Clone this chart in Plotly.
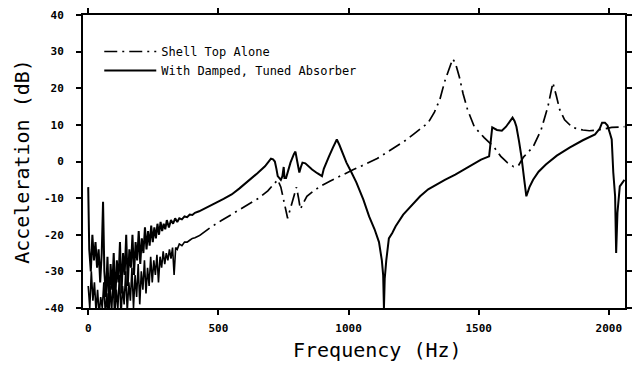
import plotly.graph_objects as go

# ---- Data ----
# "With Damped, Tuned Absorber" (solid)
absorber_freq = [0, 4, 10, 16, 22, 28, 34, 40, 46, 52, 57, 62, 68, 74, 80, 86, 92, 98, 104, 110,
                 116, 122, 128, 134, 140, 146, 152, 158, 164, 170, 176, 182, 188, 194, 200, 206,
                 212, 218, 224, 230, 236, 242, 248, 254, 260, 266, 272, 278, 284, 290, 296, 302,
                 310, 318, 326, 334, 342, 350, 360, 370, 380, 390, 400, 410, 426, 450, 490, 520,
                 551, 580, 615, 650, 679, 692, 702, 710, 717, 723, 728, 740, 746, 751, 754, 760,
                 770, 777, 790, 796, 803, 811, 817, 823, 834, 845, 860, 880, 898, 905, 915, 925,
                 940, 955, 965, 978, 992, 1010, 1030, 1057, 1079, 1100, 1117, 1128, 1133, 1136,
                 1139, 1145, 1155, 1168, 1181, 1210, 1245, 1275, 1306, 1340, 1370, 1410, 1445,
                 1480, 1509, 1540, 1546, 1552, 1570, 1589, 1605, 1623, 1630, 1638, 1645, 1655,
                 1664, 1675, 1683, 1695, 1709, 1730, 1758, 1800, 1849, 1900, 1947, 1965, 1974,
                 1985, 1995, 2005, 2011, 2017, 2024, 2028, 2033, 2042, 2060]
absorber_db = [-7, -24, -30, -20, -27, -22, -29, -24, -33, -25, -11, -30, -37, -26, -40, -28, -35,
               -25, -38, -27, -33, -22, -36, -25, -31, -20, -34, -24, -29, -20, -31, -22, -27, -19,
               -28, -21, -25, -18, -24, -19, -23, -17.5, -22, -18, -21, -17, -20, -16.5, -19, -17,
               -18.5, -16, -18, -16, -17, -15.5, -16.5, -15.5, -15.8, -15, -15.2, -14.5, -14.6,
               -14, -13.6, -12.8, -11.3, -10.2, -9, -7.4, -5.4, -3.2, -1.3, 0, 0.8, 0.6, 0, -2,
               -4, -5, -4, -1.5, -4.5, -4.5, -2, -0.3, 2, 2.7, 0, -3, -1.5, -0.3, -0.5, -1.3,
               -2.2, -3.2, -4, -2, -0.5, 1.4, 3.8, 6, 4.5, 2, -0.3, -2.8, -5.7, -10.4, -15, -18.5,
               -22, -27, -31, -40, -32, -27, -21, -19.5, -17.7, -14.5, -11.7, -9.5, -7.6, -6.2,
               -5, -3.6, -2.2, -0.6, 0.5, 1.4, 5, 9.3, 8.6, 8.4, 9.5, 11.4, 12, 11, 9.5, 5.5,
               1.4, -5, -9.5, -7, -5, -2.8, -0.8, 1.6, 3.8, 5.8, 7.4, 9, 10.6, 10.6, 9.8, 7.5, 6,
               -3, -9.5, -25, -14, -6.8, -5]

# "Shell Top Alone" (dash-dot) - noisy low-frequency part
shell_low_freq = [0, 6, 12, 18, 24, 30, 36, 42, 48, 54, 60, 66, 72, 78, 84, 90, 96, 102, 108, 114,
                  120, 126, 132, 138, 144, 150, 156, 162, 168, 174, 180, 186, 192, 198, 204, 210,
                  216, 222, 228, 234, 240, 246, 252, 258, 264, 270, 276, 282, 288, 294, 300, 306,
                  312, 318, 324, 330, 336, 342, 350, 360, 370, 380, 390, 400, 410, 426]
shell_low_db = [-34, -40, -30, -38, -33, -41, -35, -42, -37, -40, -33, -42, -36, -44, -34, -41,
                -32, -43, -35, -40, -31, -42, -34, -39, -30, -41, -33, -38, -29, -40, -31, -37,
                -28, -39, -30, -35, -27, -36, -29, -34, -26, -33, -27, -31, -25.5, -33, -26, -29,
                -24.5, -28, -25, -27, -24, -26.5, -23.5, -31, -23.5, -24, -22.5, -23, -22, -22,
                -21.5, -21, -20.8, -20.3]
# "Shell Top Alone" - resonance part
shell_freq = [426, 470, 510, 551, 590, 620, 655, 690, 710, 728, 740, 752, 766, 780, 792, 800, 808,
              815, 825, 840, 870, 898, 930, 966, 1019, 1050, 1079, 1110, 1150, 1192, 1220, 1249,
              1283, 1306, 1330, 1351, 1370, 1388, 1400, 1410, 1426, 1440, 1457, 1483, 1521, 1558,
              1585, 1610, 1634, 1652, 1672, 1709, 1740, 1766, 1785, 1798, 1811, 1830, 1860, 1900,
              1925, 1960, 2011, 2060]
shell_db = [-20.3, -18, -16.2, -14.5, -12.8, -11.5, -10, -8, -6.5, -5, -7, -11, -15.5, -12, -9, -7,
            -10, -13, -11.5, -9.5, -7.8, -6.5, -5.3, -4, -2.2, -1.2, -0.3, 0.8, 2.6, 4.4, 5.8, 7.4,
            9.2, 10.6, 13.5, 17, 22, 26, 28, 27, 23, 18.5, 14.2, 9.5, 6.5, 4, 1.4, -0.3, -1.4,
            -1.2, 1.2, 4, 8.7, 15, 21.5, 18, 14.2, 11.4, 9.3, 8.6, 8.4, 8.6, 9.3, 9.5]

x_ticks = [0, 500, 1000, 1500, 2000]
y_ticks = [-40, -30, -20, -10, 0, 10, 20, 30, 40]

mono = "DejaVu Sans Mono"
dashdot = "13px,5px,2px,5px"

fig = go.Figure()
fig.add_trace(go.Scatter(x=shell_freq, y=shell_db, mode="lines", name="Shell Top Alone",
                         legendgroup="shell",
                         line=dict(color="black", width=1.7, dash=dashdot)))
fig.add_trace(go.Scatter(x=shell_low_freq, y=shell_low_db, mode="lines", showlegend=False,
                         legendgroup="shell", line=dict(color="black", width=1.6)))
fig.add_trace(go.Scatter(x=absorber_freq, y=absorber_db, mode="lines",
                         name="With Damped, Tuned Absorber",
                         line=dict(color="black", width=2)))

axis_common = dict(showline=True, linecolor="black", linewidth=2, mirror="allticks",
                   ticks="outside", ticklen=5, tickwidth=1.5, tickcolor="black",
                   showgrid=False, zeroline=False,
                   tickfont=dict(family=mono, size=11, color="black", weight="bold"))

fig.update_layout(
    width=636, height=366,
    margin=dict(l=83, r=4, t=15, b=58),
    paper_bgcolor="white", plot_bgcolor="white",
    xaxis=dict(range=[-20, 2062], tickvals=x_ticks, ticktext=[str(v) for v in x_ticks],
               ticklabelstandoff=4, **axis_common),
    yaxis=dict(range=[-40, 40], tickvals=y_ticks, ticktext=[str(v) for v in y_ticks],
               title=dict(text="Acceleration (dB)", font=dict(family=mono, size=20, color="black"),
                          standoff=9),
               ticklabelstandoff=10, **axis_common),
    legend=dict(x=0.03, y=0.925, xanchor="left", yanchor="top", bgcolor="rgba(0,0,0,0)",
                itemwidth=52, font=dict(family=mono, size=12, color="black"),
                tracegroupgap=0),
    showlegend=True,
    annotations=[dict(text="Frequency (Hz)", xref="paper", yref="paper", x=0.543, y=-0.145,
                      xanchor="center", yanchor="middle", showarrow=False,
                      font=dict(family=mono, size=20, color="black"))],
)

fig.write_html("out.html")
